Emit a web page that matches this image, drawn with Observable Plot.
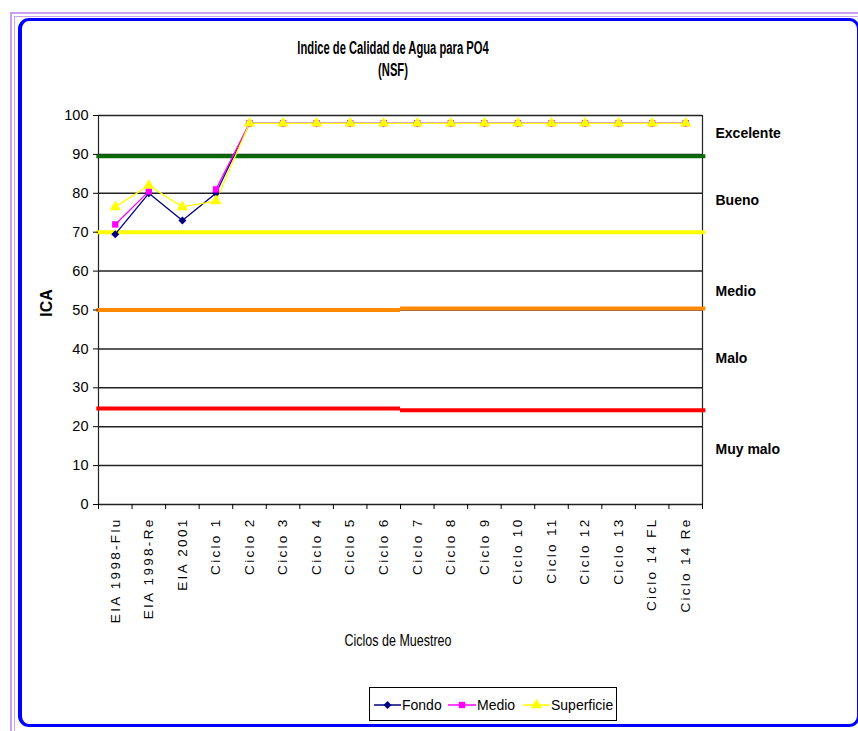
<!DOCTYPE html>
<html>
<head>
<meta charset="utf-8">
<script src="https://cdn.jsdelivr.net/npm/d3@7"></script>
<script src="https://cdn.jsdelivr.net/npm/@observablehq/plot@0.6"></script>
<style>
  html, body { margin: 0; padding: 0; background: #fff; }
  #wrap { position: relative; width: 858px; height: 731px; overflow: hidden; background: #fff; }
  .abs { position: absolute; }
  #lav1 { left: 10px; top: 12px; width: 900px; height: 800px; border-left: 2px solid #c9a0f2; border-top: 2px solid #c9a0f2; }
  #lav2 { left: 14px; top: 16px; width: 900px; height: 800px; border-left: 1px solid #c9a0f2; border-top: 1px solid #c9a0f2; }
  #blue { left: 18px; top: 18px; width: 842px; height: 709px; box-sizing: border-box; border: 3px solid #0000ff; border-left-width: 4px; border-radius: 11px; background: #fff; }
  #title { left: 393px; top: 40px; transform: translateX(-50%) scale(0.7, 1.15); text-align: center; white-space: nowrap; font-family: "Liberation Sans", Arial, sans-serif; font-weight: bold; font-size: 16px; line-height: 19px; color: #000; }
  #ica { left: 47px; top: 303px; transform: translate(-50%, -50%) rotate(-90deg); font-family: "Liberation Sans", Arial, sans-serif; font-weight: bold; font-size: 16px; }
  #xlab { left: 398px; top: 641px; transform: translate(-50%, -50%) scaleY(1.25); font-family: "Liberation Sans", Arial, sans-serif; font-size: 12.5px; white-space: nowrap; }
  #legend { left: 369px; top: 687px; width: 248px; height: 34px; box-sizing: border-box; border: 1px solid #000; background: #fff; }
  #legend svg { position: absolute; left: 0; top: 0; }
  svg.chart g[aria-label="x-axis tick label"] text { letter-spacing: 2.3px; }
</style>
</head>
<body>
<div id="wrap">
  <div id="lav1" class="abs"></div>
  <div id="lav2" class="abs"></div>
  <div id="blue" class="abs"></div>
  <div id="chart" class="abs" style="left:0;top:0"></div>
  <div id="title" class="abs">Indice de Calidad de Agua para PO4<br>(NSF)</div>
  <div id="ica" class="abs">ICA</div>
  <div id="xlab" class="abs">Ciclos de Muestreo</div>
  <div id="legend" class="abs"></div>
</div>
<script>
// ---- data ----
const categories = ["EIA 1998-Flu", "EIA 1998-Re", "EIA 2001", "Ciclo 1", "Ciclo 2", "Ciclo 3", "Ciclo 4", "Ciclo 5", "Ciclo 6", "Ciclo 7", "Ciclo 8", "Ciclo 9", "Ciclo 10", "Ciclo 11", "Ciclo 12", "Ciclo 13", "Ciclo 14 FL", "Ciclo 14 Re"];
const fondo      = [69.5, 80, 73, 80, 98, 98, 98, 98, 98, 98, 98, 98, 98, 98, 98, 98, 98, 98];
const medio      = [72, 80.5, null, 81, 98, 98, 98, 98, 98, 98, 98, 98, 98, 98, 98, 98, 98, 98];
const superficie = [76.5, 82, 76.5, 78, 98, 98, 98, 98, 98, 98, 98, 98, 98, 98, 98, 98, 98, 98];
const seriesNames = ["Fondo", "Medio", "Superficie"];
const seriesColors = ["#000080", "#ff00ff", "#ffff00"];
const seriesSymbols = ["diamond2", "square", "triangle"];
const yTicks = [0, 10, 20, 30, 40, 50, 60, 70, 80, 90, 100];

// quality limits: first block (EIA 1998-Flu .. Ciclo 6) and second block (Ciclo 7 .. Ciclo 14 Re)
const limitNames  = ["Excelente", "Bueno", "Medio", "Malo"];
const limitColors = ["#0b6b0b", "#ffff00", "#ff8a00", "#ff0000"];
const limitsFirst  = [89.5, 70, 50, 24.7];
const limitsSecond = [89.5, 70, 50.4, 24.2];
const limitBreak = "Ciclo 7";

const zoneLabels = ["Excelente", "Bueno", "Medio", "Malo", "Muy malo"];
const zoneLabelY = [95.4, 78.1, 54.8, 37.5, 14.1];

// ---- derived tables ----
const values = [fondo, medio, superficie];
const rows = seriesNames.flatMap((s, k) => categories.map((c, i) => ({i, serie: s, v: values[k][i]})));
const nCat = categories.length;
const breakIdx = categories.indexOf(limitBreak);
const segs = limitNames.flatMap((n, k) => [
  {name: n, color: limitColors[k], y: limitsFirst[k], x1: -0.55, x2: breakIdx - 0.5},
  {name: n, color: limitColors[k], y: limitsSecond[k], x1: breakIdx - 0.5, x2: nCat - 0.4}
]);
const zones = zoneLabels.map((l, k) => ({label: l, y: zoneLabelY[k]}));
const boundaries = d3.range(-0.5, nCat, 1);

const sans = '"Liberation Sans", Arial, sans-serif';

const marks = [
  Plot.ruleY(yTicks, {stroke: "#222", strokeWidth: 1.5}),
  Plot.ruleX([-0.5, nCat - 0.5], {y1: 0, y2: 100, stroke: "#222", strokeWidth: 1.2}),
  Plot.ruleY(segs, {y: "y", x1: "x1", x2: "x2", stroke: "color", strokeWidth: 4}),
  Plot.axisY({ticks: yTicks, tickSize: 5, tickPadding: 5, label: null, fontSize: 14.5, fontFamily: sans, tickFormat: d => String(d)}),
  Plot.axisX({ticks: boundaries, tickSize: 5, tickFormat: () => "", label: null}),
  Plot.axisX({ticks: d3.range(nCat), tickSize: 0, tickPadding: 13, tickRotate: -90, label: null,
    tickFormat: i => categories[i], fontSize: 13.5, fontFamily: sans})
];
seriesNames.forEach((s, k) => {
  const data = rows.filter(d => d.serie === s);
  marks.push(Plot.line(data, {x: "i", y: "v", stroke: seriesColors[k], strokeWidth: 1.3}));
});
seriesNames.forEach((s, k) => {
  const data = rows.filter(d => d.serie === s && d.v != null);
  marks.push(Plot.dot(data, {x: "i", y: "v", symbol: () => seriesSymbols[k], fill: seriesColors[k], stroke: null, r: k === 2 ? 4.2 : 3.6}));
});
marks.push(Plot.text(zones, {y: "y", text: "label", frameAnchor: "right", dx: 13, textAnchor: "start",
  fontSize: 14, fontWeight: "bold", fontFamily: sans, fill: "#000"}));

const chart = Plot.plot({
  width: 858, height: 731,
  marginLeft: 98, marginRight: 156, marginTop: 115, marginBottom: 227,
  x: {domain: [-0.5, nCat - 0.5]},
  y: {domain: [0, 100]},
  symbol: {type: "identity"},
  className: "chart",
  style: {background: "transparent", color: "#000", fontSize: "13px", overflow: "visible"},
  marks
});
document.getElementById("chart").appendChild(chart);

// ---- legend ----
const lw = 248, lh = 34;
const legend = d3.select("#legend").append("svg").attr("width", lw).attr("height", lh);
const lineStart = [4, 78, 153], lineEnd = [31, 106, 180];
seriesNames.forEach((s, k) => {
  const cy = 17;
  legend.append("line").attr("x1", lineStart[k]).attr("x2", lineEnd[k]).attr("y1", cy).attr("y2", cy)
    .attr("stroke", seriesColors[k]).attr("stroke-width", 1.5);
  const sym = {diamond2: d3.symbolDiamond2, square: d3.symbolSquare, triangle: d3.symbolTriangle}[seriesSymbols[k]];
  legend.append("path").attr("d", d3.symbol(sym, k === 2 ? 55 : 40)())
    .attr("transform", `translate(${(lineStart[k] + lineEnd[k]) / 2},${cy})`).attr("fill", seriesColors[k]);
  legend.append("text").attr("x", lineEnd[k] + 1).attr("y", cy).attr("dy", "0.35em").text(s)
    .style("font-family", sans).style("font-size", "14px");
});
</script>
</body>
</html>
